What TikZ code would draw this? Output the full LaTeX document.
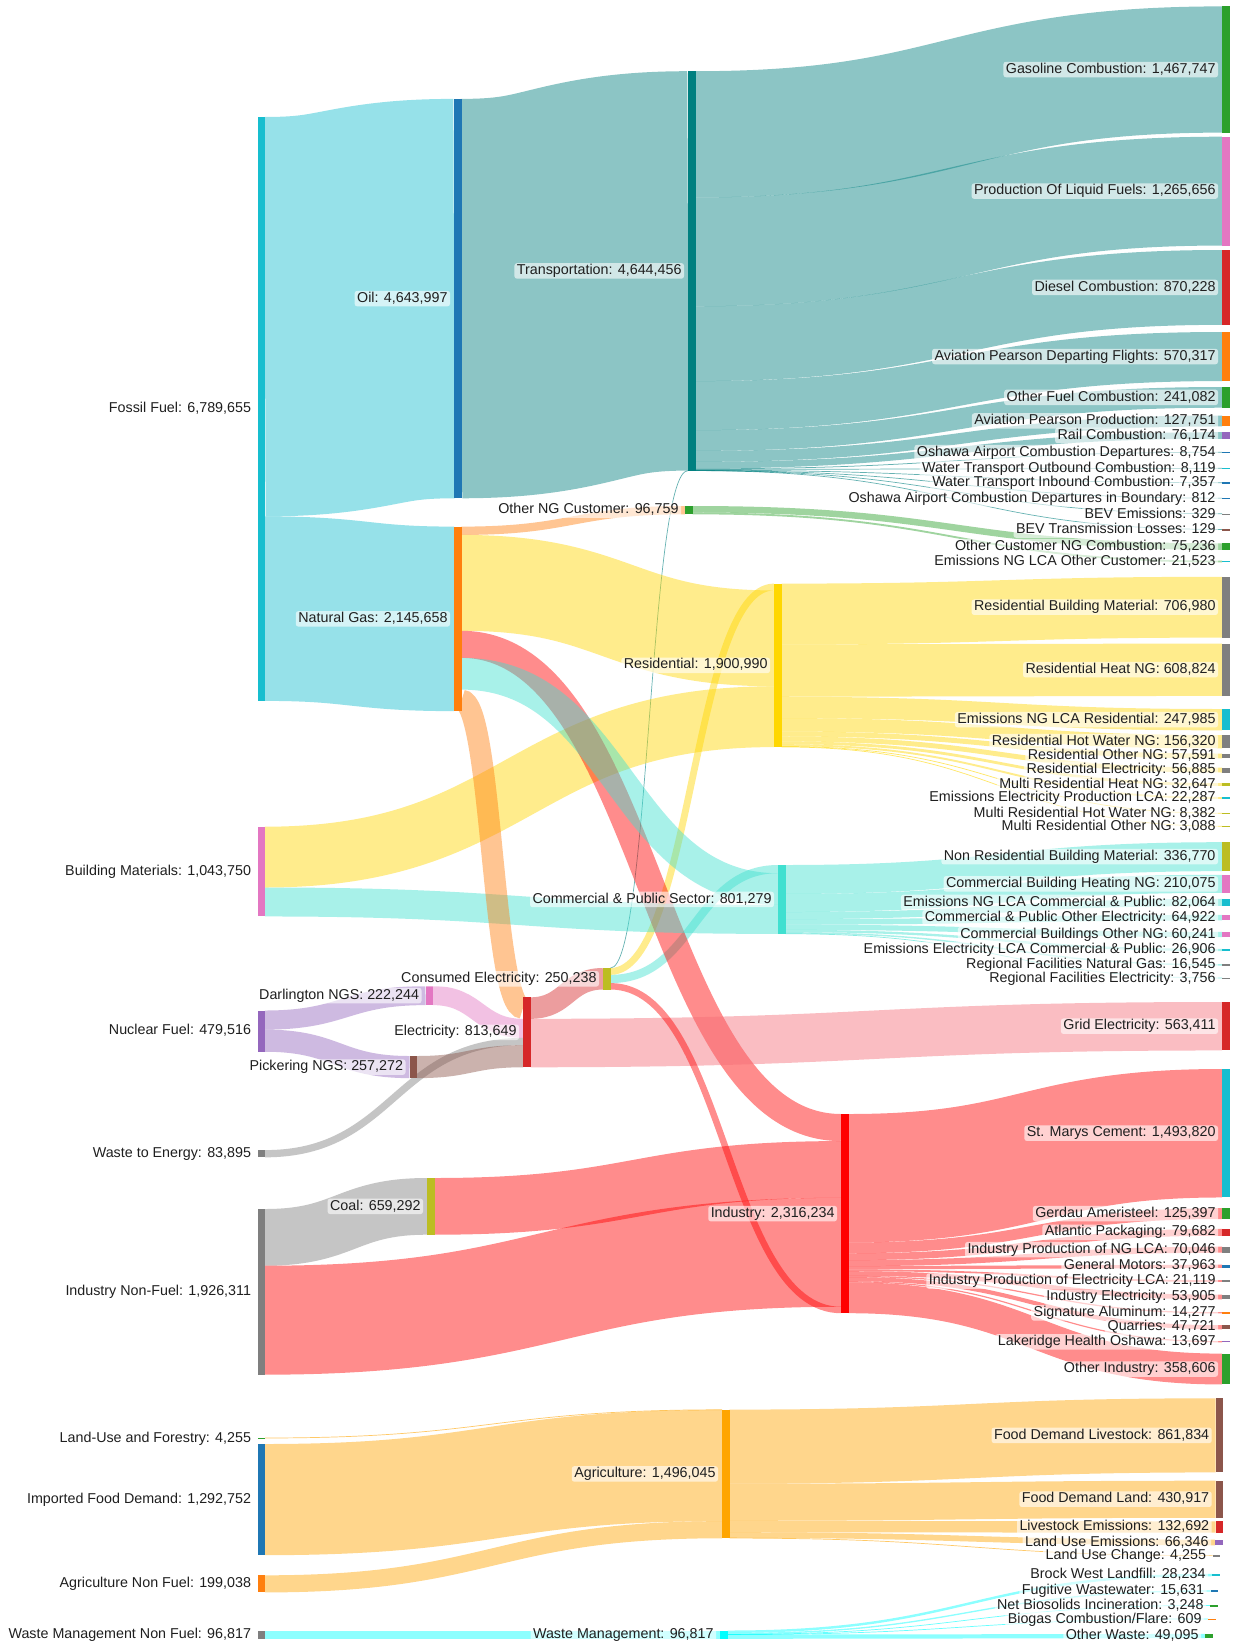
\documentclass[tikz,border=0pt]{standalone}
\usepackage{fontspec}
\setmainfont{Liberation Sans}
\usetikzlibrary{calc}
\pgfdeclarelayer{bg}
\pgfdeclarelayer{flows}
\pgfdeclarelayer{labels}
\pgfsetlayers{bg,flows,main,labels}

\definecolor{cCyan}{RGB}{23,190,207}
\definecolor{cTeal}{RGB}{0,128,128}
\definecolor{cGold}{RGB}{255,215,0}
\definecolor{cRed}{RGB}{255,0,0}
\definecolor{cTurq}{RGB}{64,224,208}
\definecolor{cOrange}{RGB}{255,127,14}
\definecolor{cPurple}{RGB}{148,103,189}
\definecolor{cPink}{RGB}{227,119,194}
\definecolor{cBrown}{RGB}{140,86,75}
\definecolor{cGray}{RGB}{127,127,127}
\definecolor{cDRed}{RGB}{214,39,40}
\definecolor{cOlive}{RGB}{188,189,34}
\definecolor{cGreen}{RGB}{44,160,44}
\definecolor{cBlue}{RGB}{31,119,180}
\definecolor{cAgri}{RGB}{255,165,0}
\definecolor{cAqua}{RGB}{0,255,255}
\definecolor{cGridL}{RGB}{245,110,120}

\makeatletter
\newcommand\getanc[4]{\pgfpointanchor{#1}{#2}\edef#3{\the\pgf@x}\edef#4{\the\pgf@y}}
\makeatother

\def\kk{0.086}

\tikzset{
  bar/.style={rectangle, draw=none, inner sep=0pt, outer sep=0pt, minimum width=7.5pt},
  lbl/.style={rectangle, fill=white, fill opacity=0.6, text opacity=1, rounded corners=2.5pt,
    inner xsep=2.5pt, inner ysep=1.2pt, outer sep=0pt, text height=10.2pt, text depth=2.9pt,
    font=\fontsize{14.3}{16}\selectfont, text=black!88}
}

% name, x-left, top, value (thousands), colour, label
\newcommand\barnode[6]{%
  \pgfmathsetmacro\bh{max(#4*\kk,1.3)}%
  \node[bar, fill=#5, minimum height=\bh pt, anchor=north west] (#1) at (#2,#3) {};%
  \begin{pgfonlayer}{labels}%
  \node[lbl, anchor=east] (#1-lab) at ([xshift=-4pt]#1.west) {#6};%
  \end{pgfonlayer}%
  \expandafter\xdef\csname no@#1\endcsname{0}%
  \expandafter\xdef\csname ni@#1\endcsname{0}%
}

% source node, target node, value (thousands), colour
% each link is a stroke along its centre curve, as wide as its value
\newcommand\flow[4]{%
  \pgfmathsetmacro\fh{#3*\kk}%
  \getanc{#1}{north east}\xa\ya
  \getanc{#2}{north west}\xb\yb
  \pgfmathsetmacro\yc{\ya-\csname no@#1\endcsname-\fh/2}%
  \pgfmathsetmacro\yd{\yb-\csname ni@#2\endcsname-\fh/2}%
  \pgfmathsetmacro\xa{\xa}\pgfmathsetmacro\xb{\xb}%
  \pgfmathsetmacro\xm{(\xa+\xb)/2}%
  \pgfmathsetmacro\lw{max(\fh,0.7)}%
  \ifdim\fh pt<1pt \def\lop{0.6}\else\def\lop{0.45}\fi
  \begin{pgfonlayer}{flows}%
    \draw[draw=#4, draw opacity=\lop, line width=\lw pt, line cap=butt]
      (\xa pt,\yc pt) .. controls (\xm pt,\yc pt) and (\xm pt,\yd pt) .. (\xb pt,\yd pt);
  \end{pgfonlayer}%
  \pgfmathsetmacro\tmp{\csname no@#1\endcsname+\fh}\expandafter\xdef\csname no@#1\endcsname{\tmp}%
  \pgfmathsetmacro\tmp{\csname ni@#2\endcsname+\fh}\expandafter\xdef\csname ni@#2\endcsname{\tmp}%
}

\begin{document}
\begin{tikzpicture}[x=1pt,y=-1pt]
\useasboundingbox (0,0) rectangle (1233,1646);
\begin{pgfonlayer}{bg}
\fill[white] (0,0) rectangle (1233,1646);
\end{pgfonlayer}

% ---------- column 0 ----------
\barnode{fossil}{257.5}{117}{6789.655}{cCyan}{Fossil Fuel: 6,789,655}
\barnode{bldg}{257.5}{826.7}{1043.750}{cPink}{Building Materials: 1,043,750}
\barnode{nuclear}{257.5}{1010.5}{479.516}{cPurple}{Nuclear Fuel: 479,516}
\barnode{wte}{257.5}{1150.1}{83.895}{cGray}{Waste to Energy: 83,895}
\barnode{inf}{257.5}{1209}{1926.311}{cGray}{Industry Non-Fuel: 1,926,311}
\barnode{landuse}{257.5}{1437.8}{4.255}{cGreen}{Land-Use and Forestry: 4,255}
\barnode{imported}{257.5}{1444}{1292.752}{cBlue}{Imported Food Demand: 1,292,752}
\barnode{agnf}{257.5}{1575.3}{199.038}{cOrange}{Agriculture Non Fuel: 199,038}
\barnode{wmnf}{257.5}{1630.5}{96.817}{cGray}{Waste Management Non Fuel: 96,817}

% ---------- column 1 ----------
\barnode{oil}{454}{98.9}{4643.997}{cBlue}{Oil: 4,643,997}
\barnode{ng}{454}{526.6}{2145.658}{cOrange}{Natural Gas: 2,145,658}
\barnode{darl}{425.5}{986}{222.244}{cPink}{Darlington NGS: 222,244}
\barnode{pick}{409.5}{1056}{257.272}{cBrown}{Pickering NGS: 257,272}
\barnode{coal}{427}{1178}{659.292}{cOlive}{Coal: 659,292}

% ---------- middle ----------
\barnode{elec}{523}{997.3}{813.649}{cDRed}{Electricity: 813,649}
\barnode{conselec}{603}{968}{250.238}{cOlive}{Consumed Electricity: 250,238}
\barnode{otherng}{685}{506}{96.759}{cGreen}{Other NG Customer: 96,759}
\barnode{transp}{688}{71.2}{4644.456}{cTeal}{Transportation: 4,644,456}
\barnode{resid}{774}{583.6}{1900.990}{cGold}{Residential: 1,900,990}
\barnode{comm}{778}{865}{801.279}{cTurq}{Commercial \& Public Sector: 801,279}
\barnode{industry}{841}{1114}{2316.234}{cRed}{Industry: 2,316,234}
\barnode{agri}{722}{1409.6}{1496.045}{cAgri}{Agriculture: 1,496,045}
\barnode{wm}{720}{1630.5}{96.817}{cAqua}{Waste Management: 96,817}

% ---------- right column ----------
\barnode{gasoline}{1222}{6.4}{1467.747}{cGreen}{Gasoline Combustion: 1,467,747}
\barnode{polf}{1222}{136.7}{1265.656}{cPink}{Production Of Liquid Fuels: 1,265,656}
\barnode{diesel}{1222}{250}{870.228}{cDRed}{Diesel Combustion: 870,228}
\barnode{apdf}{1222}{332}{570.317}{cOrange}{Aviation Pearson Departing Flights: 570,317}
\barnode{otherfuel}{1222}{387}{241.082}{cGreen}{Other Fuel Combustion: 241,082}
\barnode{app}{1222}{415.5}{127.751}{cOrange}{Aviation Pearson Production: 127,751}
\barnode{rail}{1222}{432.2}{76.174}{cPurple}{Rail Combustion: 76,174}
\barnode{oshdep}{1222}{451.9}{8.754}{cBlue}{Oshawa Airport Combustion Departures: 8,754}
\barnode{waterout}{1222}{467.95}{8.119}{cCyan}{Water Transport Outbound Combustion: 8,119}
\barnode{waterin}{1222}{482.4}{7.357}{cBlue}{Water Transport Inbound Combustion: 7,357}
\barnode{oshbound}{1222}{498.1}{0.812}{cBlue}{Oshawa Airport Combustion Departures in Boundary: 812}
\barnode{bevem}{1222}{513.7}{0.329}{cGray}{BEV Emissions: 329}
\barnode{bevtrans}{1222}{529.4}{0.129}{cBrown}{BEV Transmission Losses: 129}
\barnode{ocng}{1222}{543.3}{75.236}{cGreen}{Other Customer NG Combustion: 75,236}
\barnode{emngoc}{1222}{560.6}{21.523}{cCyan}{Emissions NG LCA Other Customer: 21,523}
\barnode{rbm}{1222}{576.8}{706.980}{cGray}{Residential Building Material: 706,980}
\barnode{rheat}{1222}{643.5}{608.824}{cGray}{Residential Heat NG: 608,824}
\barnode{emngres}{1222}{709}{247.985}{cCyan}{Emissions NG LCA Residential: 247,985}
\barnode{rhw}{1222}{735}{156.320}{cGray}{Residential Hot Water NG: 156,320}
\barnode{rother}{1222}{753.5}{57.591}{cGray}{Residential Other NG: 57,591}
\barnode{relec}{1222}{767.6}{56.885}{cGray}{Residential Electricity: 56,885}
\barnode{mrheat}{1222}{783.1}{32.647}{cOlive}{Multi Residential Heat NG: 32,647}
\barnode{emelecprod}{1222}{797}{22.287}{cCyan}{Emissions Electricity Production LCA: 22,287}
\barnode{mrhw}{1222}{812.9}{8.382}{cOlive}{Multi Residential Hot Water NG: 8,382}
\barnode{mrother}{1222}{826.1}{3.088}{cOlive}{Multi Residential Other NG: 3,088}
\barnode{nrbm}{1222}{842.2}{336.770}{cOlive}{Non Residential Building Material: 336,770}
\barnode{cbheat}{1222}{874.8}{210.075}{cPink}{Commercial Building Heating NG: 210,075}
\barnode{emngcp}{1222}{898.9}{82.064}{cCyan}{Emissions NG LCA Commercial \& Public: 82,064}
\barnode{cpoelec}{1222}{914.9}{64.922}{cPink}{Commercial \& Public Other Electricity: 64,922}
\barnode{cbother}{1222}{931.9}{60.241}{cPink}{Commercial Buildings Other NG: 60,241}
\barnode{emeleccp}{1222}{948.8}{26.906}{cCyan}{Emissions Electricity LCA Commercial \& Public: 26,906}
\barnode{regng}{1222}{964.1}{16.545}{cGray}{Regional Facilities Natural Gas: 16,545}
\barnode{regelec}{1222}{977.8}{3.756}{cGray}{Regional Facilities Electricity: 3,756}
\barnode{grid}{1222}{1002}{563.411}{cDRed}{Grid Electricity: 563,411}
\barnode{stmarys}{1222}{1069}{1493.820}{cCyan}{St. Marys Cement: 1,493,820}
\barnode{gerdau}{1222}{1208.2}{125.397}{cGreen}{Gerdau Ameristeel: 125,397}
\barnode{atlantic}{1222}{1228.9}{79.682}{cDRed}{Atlantic Packaging: 79,682}
\barnode{ipnglca}{1222}{1246.7}{70.046}{cGray}{Industry Production of NG LCA: 70,046}
\barnode{gm}{1222}{1264.7}{37.963}{cBlue}{General Motors: 37,963}
\barnode{ipeleclca}{1222}{1280.1}{21.119}{cGray}{Industry Production of Electricity LCA: 21,119}
\barnode{indelec}{1222}{1294.7}{53.905}{cGray}{Industry Electricity: 53,905}
\barnode{sigal}{1222}{1312.2}{14.277}{cOrange}{Signature Aluminum: 14,277}
\barnode{quarries}{1222}{1325.2}{47.721}{cBrown}{Quarries: 47,721}
\barnode{lakeridge}{1222}{1341.1}{13.697}{cPurple}{Lakeridge Health Oshawa: 13,697}
\barnode{otherind}{1222}{1353.6}{358.606}{cGreen}{Other Industry: 358,606}
\barnode{fdl}{1215.7}{1398.3}{861.834}{cBrown}{Food Demand Livestock: 861,834}
\barnode{fdland}{1215.7}{1480.7}{430.917}{cBrown}{Food Demand Land: 430,917}
\barnode{livem}{1215.7}{1521.3}{132.692}{cDRed}{Livestock Emissions: 132,692}
\barnode{luem}{1215}{1539.6}{66.346}{cPurple}{Land Use Emissions: 66,346}
\barnode{luchange}{1212.5}{1555.4}{4.255}{cGray}{Land Use Change: 4,255}
\barnode{brock}{1212}{1573.8}{28.234}{cCyan}{Brock West Landfill: 28,234}
\barnode{fugitive}{1210.5}{1590.3}{15.631}{cBlue}{Fugitive Wastewater: 15,631}
\barnode{netbio}{1210}{1605.3}{3.248}{cGreen}{Net Biosolids Incineration: 3,248}
\barnode{biogas}{1208}{1618.9}{0.609}{cOrange}{Biogas Combustion/Flare: 609}
\barnode{otherwaste}{1205}{1633.9}{49.095}{cGreen}{Other Waste: 49,095}

% ---------- flows ----------
\flow{fossil}{oil}{4643.997}{cCyan}
\flow{fossil}{ng}{2145.658}{cCyan}
\flow{oil}{transp}{4643.997}{cTeal}
\flow{conselec}{transp}{0.458}{cTeal}
\flow{conselec}{resid}{79.172}{cGold}
\flow{ng}{otherng}{96.759}{cOrange}
\flow{ng}{resid}{1114.838}{cGold}
\flow{bldg}{resid}{706.980}{cGold}
\flow{conselec}{comm}{95.584}{cTurq}
\flow{ng}{industry}{314.899}{cRed}
\flow{ng}{comm}{368.925}{cTurq}
\flow{bldg}{comm}{336.770}{cTurq}
\flow{ng}{elec}{250.238}{cOrange}
\flow{nuclear}{darl}{222.244}{cPurple}
\flow{nuclear}{pick}{257.272}{cPurple}
\flow{darl}{elec}{222.244}{cPink}
\flow{wte}{elec}{83.895}{cGray}
\flow{pick}{elec}{257.272}{cBrown}
\flow{elec}{conselec}{250.238}{cDRed}
\flow{elec}{grid}{563.411}{cGridL}
\flow{inf}{coal}{659.292}{cGray}
\flow{coal}{industry}{659.292}{cRed}
\flow{inf}{industry}{1267.019}{cRed}
\flow{conselec}{industry}{75.024}{cRed}
\flow{landuse}{agri}{4.255}{cAgri}
\flow{imported}{agri}{1292.752}{cAgri}
\flow{agnf}{agri}{199.038}{cAgri}
\flow{wmnf}{wm}{96.817}{cAqua}

% transportation
\flow{transp}{gasoline}{1467.747}{cTeal}
\flow{transp}{polf}{1265.656}{cTeal}
\flow{transp}{diesel}{870.228}{cTeal}
\flow{transp}{apdf}{570.317}{cTeal}
\flow{transp}{otherfuel}{241.082}{cTeal}
\flow{transp}{app}{127.751}{cTeal}
\flow{transp}{rail}{76.174}{cTeal}
\flow{transp}{oshdep}{8.754}{cTeal}
\flow{transp}{waterout}{8.119}{cTeal}
\flow{transp}{waterin}{7.357}{cTeal}
\flow{transp}{oshbound}{0.812}{cTeal}
\flow{transp}{bevem}{0.329}{cTeal}
\flow{transp}{bevtrans}{0.129}{cTeal}
% other NG customer
\flow{otherng}{ocng}{75.236}{cGreen}
\flow{otherng}{emngoc}{21.523}{cGreen}
% residential
\flow{resid}{rbm}{706.980}{cGold}
\flow{resid}{rheat}{608.824}{cGold}
\flow{resid}{emngres}{247.985}{cGold}
\flow{resid}{rhw}{156.320}{cGold}
\flow{resid}{rother}{57.591}{cGold}
\flow{resid}{relec}{56.885}{cGold}
\flow{resid}{mrheat}{32.647}{cGold}
\flow{resid}{emelecprod}{22.287}{cGold}
\flow{resid}{mrhw}{8.382}{cGold}
\flow{resid}{mrother}{3.088}{cGold}
% commercial
\flow{comm}{nrbm}{336.770}{cTurq}
\flow{comm}{cbheat}{210.075}{cTurq}
\flow{comm}{emngcp}{82.064}{cTurq}
\flow{comm}{cpoelec}{64.922}{cTurq}
\flow{comm}{cbother}{60.241}{cTurq}
\flow{comm}{emeleccp}{26.906}{cTurq}
\flow{comm}{regng}{16.545}{cTurq}
\flow{comm}{regelec}{3.756}{cTurq}
% industry
\flow{industry}{stmarys}{1493.820}{cRed}
\flow{industry}{gerdau}{125.397}{cRed}
\flow{industry}{atlantic}{79.682}{cRed}
\flow{industry}{ipnglca}{70.046}{cRed}
\flow{industry}{gm}{37.963}{cRed}
\flow{industry}{ipeleclca}{21.119}{cRed}
\flow{industry}{indelec}{53.905}{cRed}
\flow{industry}{sigal}{14.277}{cRed}
\flow{industry}{quarries}{47.721}{cRed}
\flow{industry}{lakeridge}{13.697}{cRed}
\flow{industry}{otherind}{358.606}{cRed}
% agriculture
\flow{agri}{fdl}{861.834}{cAgri}
\flow{agri}{fdland}{430.917}{cAgri}
\flow{agri}{livem}{132.692}{cAgri}
\flow{agri}{luem}{66.346}{cAgri}
\flow{agri}{luchange}{4.255}{cAgri}
% waste management
\flow{wm}{brock}{28.234}{cAqua}
\flow{wm}{fugitive}{15.631}{cAqua}
\flow{wm}{netbio}{3.248}{cAqua}
\flow{wm}{biogas}{0.609}{cAqua}
\flow{wm}{otherwaste}{49.095}{cAqua}
\end{tikzpicture}
\end{document}
